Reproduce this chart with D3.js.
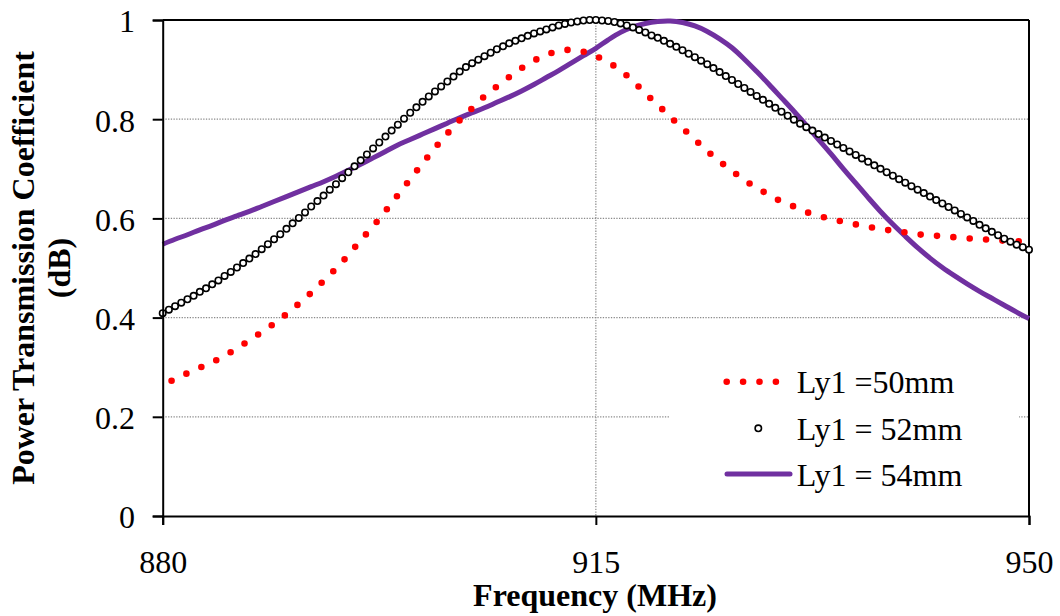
<!DOCTYPE html>
<html>
<head>
<meta charset="utf-8">
<script src="https://cdn.jsdelivr.net/npm/d3@7"></script>
<style>
  html, body { margin: 0; padding: 0; background: #fff; }
  svg { display: block; }
  text { font-family: "Liberation Serif", "Times New Roman", serif; fill: #000; }
</style>
</head>
<body>
<svg id="chart" width="1060" height="616"></svg>
<script>
// ---------- data ----------
const xTicks = [880, 915, 950];
const yTicks = [0, 0.2, 0.4, 0.6, 0.8, 1];
const yTickLabels = ["0", "0.2", "0.4", "0.6", "0.8", "1"];
const seriesNames = ["Ly1 =50mm", "Ly1 = 52mm", "Ly1 = 54mm"];

// Ly1 = 50mm (red dotted line)
const freq50 = [880.5, 881, 882, 883, 884, 885, 886, 887, 888, 889, 890, 891, 892, 893, 894, 895, 896, 897, 898, 899,
  900, 901, 902, 903, 904, 905, 906, 907, 908, 909, 910, 911, 912, 913, 914, 915, 916, 917, 918, 919,
  920, 921, 922, 923, 924, 925, 926, 927, 928, 929, 930, 931, 932, 933, 934, 935, 936, 937, 938, 939,
  940, 941, 942, 943, 944, 945, 946, 947, 948, 949, 950];
const ly50 = [0.270, 0.276, 0.288, 0.299, 0.310, 0.323, 0.338, 0.354, 0.371, 0.388, 0.407, 0.428, 0.450, 0.474, 0.499, 0.526, 0.556, 0.584, 0.615, 0.647,
  0.679, 0.711, 0.742, 0.771, 0.798, 0.822, 0.846, 0.866, 0.885, 0.903, 0.918, 0.930, 0.937, 0.940, 0.936, 0.927, 0.915, 0.898, 0.877, 0.852,
  0.829, 0.805, 0.782, 0.759, 0.736, 0.715, 0.696, 0.677, 0.662, 0.647, 0.634, 0.624, 0.613, 0.605, 0.599, 0.593, 0.588, 0.583, 0.579, 0.575,
  0.572, 0.568, 0.566, 0.564, 0.562, 0.560, 0.558, 0.557, 0.555, 0.554, 0.553];

// Ly1 = 52mm (black open circles, 0.5 MHz steps from 880 to 950)
const freq52 = d3.range(880, 950.25, 0.5);
const ly52 = [0.409, 0.416, 0.423, 0.430, 0.437, 0.444, 0.452, 0.459, 0.467, 0.475,
  0.484, 0.492, 0.501, 0.510, 0.519, 0.528, 0.538, 0.548, 0.558, 0.568,
  0.579, 0.590, 0.601, 0.612, 0.624, 0.635, 0.646, 0.658, 0.669, 0.681,
  0.693, 0.705, 0.717, 0.729, 0.741, 0.753, 0.765, 0.777, 0.789, 0.801,
  0.813, 0.824, 0.835, 0.846, 0.856, 0.866, 0.876, 0.886, 0.896, 0.905,
  0.913, 0.920, 0.927, 0.934, 0.941, 0.947, 0.953, 0.958, 0.963, 0.968,
  0.973, 0.977, 0.981, 0.985, 0.989, 0.992, 0.995, 0.997, 0.999, 1.000,
  1.000, 0.999, 0.998, 0.996, 0.993, 0.989, 0.985, 0.980, 0.975, 0.969,
  0.964, 0.958, 0.952, 0.946, 0.939, 0.932, 0.925, 0.918, 0.911, 0.903,
  0.895, 0.887, 0.879, 0.871, 0.863, 0.855, 0.847, 0.839, 0.831, 0.823,
  0.815, 0.807, 0.799, 0.791, 0.784, 0.777, 0.770, 0.763, 0.756, 0.749,
  0.742, 0.735, 0.728, 0.721, 0.714, 0.707, 0.700, 0.693, 0.686, 0.679,
  0.672, 0.665, 0.658, 0.651, 0.644, 0.637, 0.630, 0.623, 0.616, 0.609,
  0.602, 0.595, 0.587, 0.580, 0.573, 0.566, 0.559, 0.553, 0.547, 0.542,
  0.537];

// Ly1 = 54mm (purple solid line, 1 MHz steps)
const freq54 = d3.range(880, 950.5, 1);
const ly54 = [0.548, 0.558, 0.567, 0.577, 0.586, 0.596, 0.605, 0.614, 0.624, 0.634,
  0.644, 0.654, 0.664, 0.674, 0.685, 0.697, 0.709, 0.722, 0.735, 0.748,
  0.759, 0.770, 0.781, 0.792, 0.803, 0.813, 0.823, 0.834, 0.845, 0.857,
  0.870, 0.884, 0.898, 0.913, 0.928, 0.943, 0.960, 0.975, 0.986, 0.993,
  0.997, 0.998, 0.995, 0.988, 0.977, 0.962, 0.944, 0.921, 0.896, 0.870,
  0.843, 0.816, 0.788, 0.759, 0.730, 0.700, 0.671, 0.642, 0.614, 0.588,
  0.564, 0.541, 0.520, 0.501, 0.484, 0.468, 0.453, 0.439, 0.425, 0.411,
  0.398];

// ---------- layout ----------
const svg = d3.select("#chart");
const pLeft = 162.7, pRight = 1029, pTop = 20, pBottom = 516;
const x = d3.scaleLinear().domain([880, 950]).range([pLeft, pRight]);
const y = d3.scaleLinear().domain([0, 1]).range([pBottom, pTop]);

const red = "#FF0000", purple = "#7030A0";
const dotGap = 16.4;

// gridlines
const grid = svg.append("g");
grid.selectAll("line.h").data(yTicks.filter(v => v > 0 && v < 1)).enter().append("line")
  .attr("x1", pLeft).attr("x2", pRight)
  .attr("y1", d => y(d)).attr("y2", d => y(d))
  .attr("stroke", "#8a8a8a").attr("stroke-width", 1.2).attr("stroke-dasharray", "1.3,1.4");
grid.selectAll("line.v").data([915]).enter().append("line")
  .attr("x1", d => x(d)).attr("x2", d => x(d))
  .attr("y1", pTop).attr("y2", pBottom)
  .attr("stroke", "#8a8a8a").attr("stroke-width", 1.2).attr("stroke-dasharray", "1.3,1.4");

// plot border (top & right)
svg.append("line").attr("x1", pLeft).attr("x2", pRight).attr("y1", pTop).attr("y2", pTop)
  .attr("stroke", "#000").attr("stroke-width", 2);
svg.append("line").attr("x1", pRight).attr("x2", pRight).attr("y1", pTop).attr("y2", pBottom)
  .attr("stroke", "#000").attr("stroke-width", 2);

// legend background (covers gridlines)
svg.append("rect").attr("x", 670).attr("y", 350).attr("width", 349).attr("height", 155).attr("fill", "#fff");

// series
const purpleLine = d3.line().x((d, i) => x(freq54[i])).y(d => y(d)).curve(d3.curveCatmullRom.alpha(0.5));
svg.append("path").datum(ly54).attr("d", purpleLine)
  .attr("fill", "none").attr("stroke", purple).attr("stroke-width", 5).attr("stroke-linejoin", "round");

const redLine = d3.line().x((d, i) => x(freq50[i])).y(d => y(d)).curve(d3.curveCatmullRom.alpha(0.5));
svg.append("path").datum(ly50).attr("d", redLine)
  .attr("fill", "none").attr("stroke", red).attr("stroke-width", 6.6)
  .attr("stroke-linecap", "round").attr("stroke-dasharray", `0 ${dotGap}`).attr("stroke-dashoffset", dotGap - 3);

svg.append("g").selectAll("circle").data(ly52).enter().append("circle")
  .attr("cx", (d, i) => x(freq52[i])).attr("cy", d => y(d)).attr("r", 3.2)
  .attr("fill", "#fff").attr("stroke", "#000").attr("stroke-width", 1.6);

// axes
const yAxis = d3.axisLeft(y).tickValues(yTicks).tickSize(10).tickPadding(18)
  .tickFormat((d, i) => yTickLabels[i]);
const gy = svg.append("g").attr("transform", `translate(${pLeft},0)`).call(yAxis);
gy.select(".domain").attr("stroke", "#000").attr("stroke-width", 2);
gy.selectAll(".tick line").attr("stroke", "#000").attr("stroke-width", 2);
gy.selectAll(".tick text").attr("font-size", 32).attr("font-family", "Liberation Serif, Times New Roman, serif")
  .attr("x", -27.7).attr("dy", "0.37em").attr("fill", "#000");

const xAxis = d3.axisBottom(x).tickValues(xTicks).tickSize(9).tickFormat(d3.format("d"));
const gx = svg.append("g").attr("transform", `translate(0,${pBottom})`).call(xAxis);
gx.select(".domain").attr("stroke", "#000").attr("stroke-width", 2);
gx.selectAll(".tick line").attr("stroke", "#000").attr("stroke-width", 2);
gx.selectAll(".tick text").attr("font-size", 32).attr("font-family", "Liberation Serif, Times New Roman, serif")
  .attr("y", 57).attr("dy", 0).attr("fill", "#000");

// axis titles
svg.append("text").attr("x", 595).attr("y", 606).attr("text-anchor", "middle")
  .attr("font-size", 32).attr("font-weight", "bold").text("Frequency (MHz)");
const yt = svg.append("text").attr("transform", "translate(34,268) rotate(-90)")
  .attr("text-anchor", "middle").attr("font-size", 32).attr("font-weight", "bold");
yt.append("tspan").attr("x", 0).attr("y", 0).text("Power Transmission Coefficient");
yt.append("tspan").attr("x", 0).attr("y", 36).text("(dB)");

// legend
const lg = svg.append("g");
const rows = [393, 440, 486];
lg.append("line").attr("x1", 726.7).attr("x2", 776).attr("y1", 381.7).attr("y2", 381.7)
  .attr("stroke", red).attr("stroke-width", 6.6).attr("stroke-linecap", "round").attr("stroke-dasharray", `0 ${dotGap}`);
lg.append("circle").attr("cx", 758.3).attr("cy", 428.3).attr("r", 3.2)
  .attr("fill", "#fff").attr("stroke", "#000").attr("stroke-width", 1.6);
lg.append("line").attr("x1", 727).attr("x2", 790).attr("y1", 474).attr("y2", 474)
  .attr("stroke", purple).attr("stroke-width", 5).attr("stroke-linecap", "round");
lg.selectAll("text").data(seriesNames).enter().append("text")
  .attr("x", 796.7).attr("y", (d, i) => rows[i]).attr("font-size", 32).text(d => d);
</script>
</body>
</html>
